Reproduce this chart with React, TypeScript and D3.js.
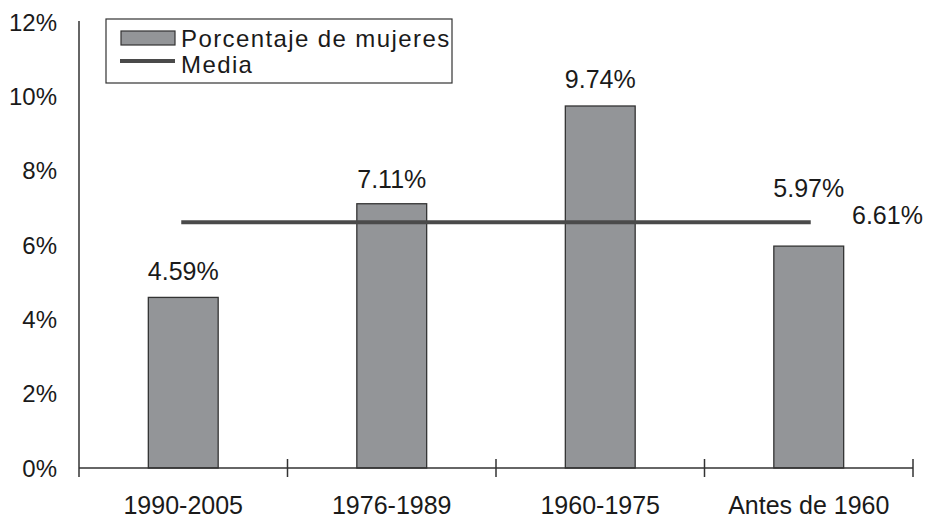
import React from "react";
import * as d3 from "d3";

const categories = ["1990-2005", "1976-1989", "1960-1975", "Antes de 1960"];
const values = [4.59, 7.11, 9.74, 5.97];
const labels = ["4.59%", "7.11%", "9.74%", "5.97%"];
const meanValue = 6.61;
const meanLabel = "6.61%";
const yTicks = [0, 2, 4, 6, 8, 10, 12];
const legendItems = ["Porcentaje de mujeres", "Media"];

const W = 931;
const H = 520;
const left = 79;
const right = 913;
const top = 22;
const bottom = 468;
const FONT = "'Liberation Sans', Arial, Helvetica, sans-serif";

export default function App() {
  const x = d3.scaleBand<string>().domain(categories).range([left, right]).paddingInner(0).paddingOuter(0);
  const y = d3.scaleLinear().domain([0, 12]).range([bottom, top]);
  const bw = x.bandwidth() * 0.335;
  const centers = categories.map((c) => (x(c) as number) + x.bandwidth() / 2);
  const line = d3.line<[number, number]>().x((d) => d[0]).y((d) => d[1]);
  const meanPts: [number, number][] = [
    [centers[0], y(meanValue)],
    [centers[centers.length - 1], y(meanValue)],
  ];
  const boundaries = [left, ...categories.map((c) => (x(c) as number) + x.bandwidth())];
  const labelOffsets = [17, 16, 18, 49];

  return (
    <svg
      width={W}
      height={H}
      style={{ position: "absolute", left: 0, top: 0, background: "#fff" }}
      fontFamily={FONT}
    >
      <rect x={0} y={0} width={W} height={H} fill="#fff" />
      {/* bars */}
      {categories.map((c, i) => (
        <rect
          key={c}
          x={centers[i] - bw / 2}
          y={y(values[i])}
          width={bw}
          height={y(0) - y(values[i])}
          fill="#939598"
          stroke="#333"
          strokeWidth={1.3}
        />
      ))}
      {/* axes */}
      <line x1={left} x2={left} y1={top - 1} y2={bottom} stroke="#333" strokeWidth={1.5} />
      <line x1={left} x2={right} y1={bottom} y2={bottom} stroke="#333" strokeWidth={1.5} />
      {boundaries.map((b, i) => (
        <line key={i} x1={b} x2={b} y1={i === 0 ? bottom : bottom - 9} y2={bottom + 9} stroke="#333" strokeWidth={1.5} />
      ))}
      {yTicks.map((t) => (
        <text key={t} x={57} y={y(t)} dy="0.36em" textAnchor="end" fontSize={24} fill="#1a1a1a">
          {t}%
        </text>
      ))}
      {categories.map((c, i) => (
        <text key={c} x={centers[i]} y={514} textAnchor="middle" fontSize={25} fill="#1a1a1a">
          {c}
        </text>
      ))}
      {/* mean line */}
      <path d={line(meanPts) || ""} stroke="#4a4a4a" strokeWidth={4} fill="none" strokeLinecap="square" />
      <text x={852} y={224} fontSize={25} fill="#1a1a1a">
        {meanLabel}
      </text>
      {/* value labels */}
      {categories.map((c, i) => (
        <text key={c} x={centers[i]} y={y(values[i]) - labelOffsets[i]} textAnchor="middle" fontSize={25} fill="#1a1a1a">
          {labels[i]}
        </text>
      ))}
      {/* legend */}
      <rect x={106} y={19} width={346} height={64} fill="#fff" stroke="#333" strokeWidth={1.2} />
      <rect x={121} y={31} width={54} height={14} fill="#939598" stroke="#333" strokeWidth={1.2} />
      <line x1={120} x2={175} y1={61} y2={61} stroke="#4a4a4a" strokeWidth={4} />
      <text x={181} y={47} fontSize={24} letterSpacing={1.4} fill="#1a1a1a">
        {legendItems[0]}
      </text>
      <text x={181} y={73} fontSize={24} letterSpacing={1.4} fill="#1a1a1a">
        {legendItems[1]}
      </text>
    </svg>
  );
}
